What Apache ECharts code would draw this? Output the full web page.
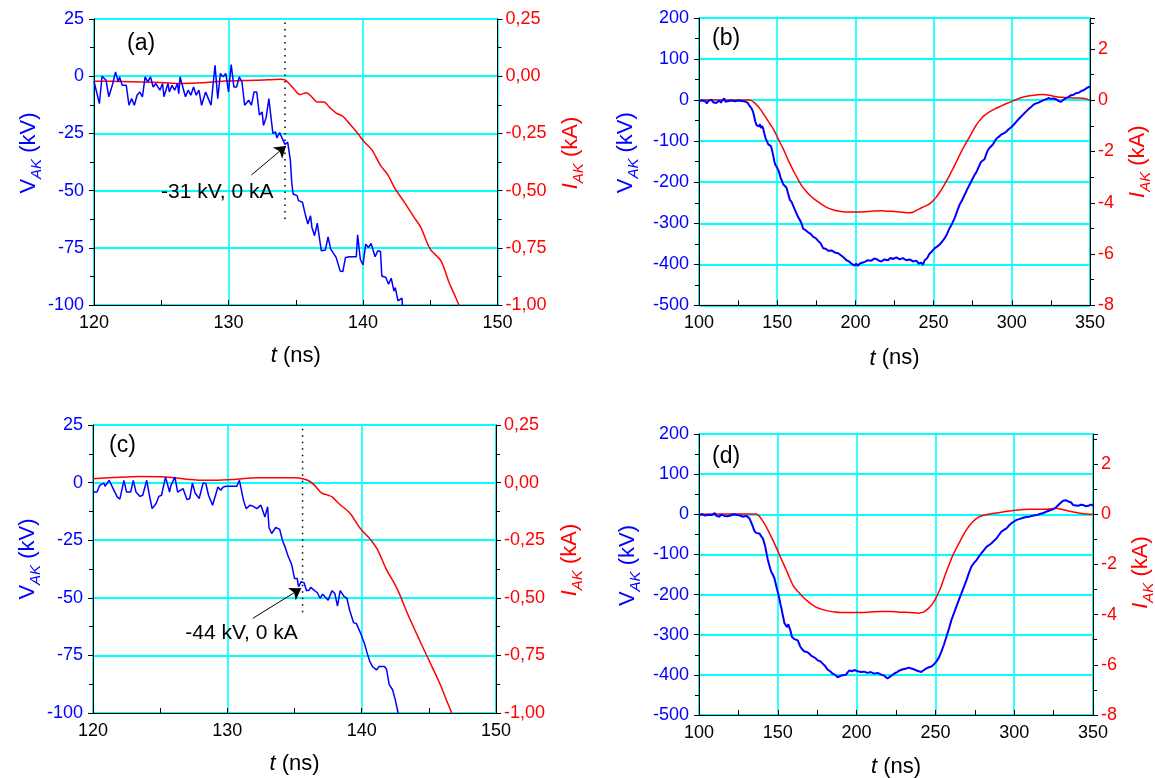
<!DOCTYPE html>
<html><head><meta charset="utf-8">
<script src="https://cdn.jsdelivr.net/npm/echarts@6/dist/echarts.min.js"></script>
<style>html,body{margin:0;padding:0;background:#fff}#c{width:1155px;height:778px}</style>
</head><body><div id="c"></div><script>
// ---------- DATA ----------
const panelLabels = ['(a)', '(b)', '(c)', '(d)'];

// Panel (a): t (ns), V_AK (kV) / I_AK (kA)
const aVoltage = [[120.0,-2.2],[120.4,-12],[120.6,0],[120.9,-1.8],[121.1,-9],[121.4,-3.2],[121.6,1.9],[121.8,-2.5],[121.9,-0.3],[122.1,-4],[122.4,-4],[122.6,-12.7],[122.8,-9.8],[123.0,-12.7],[123.2,-8.3],[123.4,-6.9],[123.6,-9],[123.8,-0.3],[124.0,-2.5],[124.2,-0.3],[124.4,-4.7],[124.6,-3.2],[124.9,-6.1],[125.1,-3.2],[125.2,-9],[125.5,-3.2],[125.6,-6.9],[125.8,-4],[126.0,-6.1],[126.2,-3.2],[126.3,-7.6],[126.4,-0.3],[126.7,-6.9],[126.8,-9],[127.0,-6.1],[127.2,-8.3],[127.4,-4.7],[127.6,-8.3],[127.8,-6.1],[128.0,-12.7],[128.3,-6.9],[128.5,-9.8],[128.7,-12.7],[129.0,4.8],[129.2,-9.8],[129.4,1.2],[129.6,-0.3],[129.8,1.2],[130.0,-6.9],[130.2,5.1],[130.4,-4.7],[130.6,-4.7],[130.8,-0.3],[131.0,-2.5],[131.2,-12.7],[131.5,-10.5],[131.7,-12.7],[131.9,-6.9],[132.1,-6.9],[132.3,-17],[132.5,-15.6],[132.6,-21.5],[132.8,-18],[133.0,-9.8],[133.2,-20],[133.3,-25],[133.5,-24.4],[133.6,-27],[133.8,-24.6],[134.0,-27.3],[134.2,-29.8],[134.4,-28.8],[134.6,-36.8],[134.7,-46.3],[134.8,-51.5],[135.1,-52.2],[135.2,-54.4],[135.5,-55.1],[135.7,-60.2],[135.9,-64.6],[136.1,-61],[136.2,-66],[136.4,-69.7],[136.6,-64.2],[136.9,-76.3],[137.2,-76],[137.4,-70.2],[137.6,-75.6],[138.0,-79.2],[138.3,-85.1],[138.5,-85.4],[138.7,-79.2],[139.0,-78.9],[139.5,-78.9],[139.6,-69.3],[139.8,-80],[140.0,-82.5],[140.2,-73.4],[140.4,-74.9],[140.6,-73.1],[140.9,-78.9],[141.1,-76.3],[141.3,-76.6],[141.4,-87.3],[141.7,-88],[141.9,-90.9],[142.1,-88.3],[142.3,-93.9],[142.4,-92.4],[142.6,-98.2],[142.7,-98],[142.9,-97],[142.95,-102]];
const aCurrent = [[120,-0.022],[122,-0.023],[123.5,-0.025],[125,-0.028],[126.5,-0.032],[128,-0.029],[129.7,-0.021],[131,-0.019],[132,-0.018],[133.2,-0.015],[133.9,-0.013],[134.2,-0.016],[134.5,-0.032],[134.9,-0.058],[135.3,-0.08],[135.8,-0.072],[136.2,-0.091],[136.6,-0.113],[137.1,-0.113],[137.5,-0.135],[138.0,-0.161],[138.5,-0.175],[139.0,-0.208],[139.6,-0.249],[140.1,-0.288],[140.7,-0.325],[141.3,-0.39],[141.8,-0.427],[142.4,-0.493],[143.0,-0.544],[143.8,-0.617],[144.3,-0.661],[145.0,-0.756],[145.8,-0.807],[146.4,-0.902],[146.9,-0.968],[147.2,-1.01]];
const aDotted = [[134.2,23.5],[134.2,-62.5]];
const aArrow = [[131.7,-43.2],[134.27,-30.5]];
const aNote = [129.16,-50.6];
const aNoteText = '-31 kV, 0 kA';

// Panel (b)
const bVoltage = [[100,-2],[101,-6],[102,-1],[103,-5],[104,-3],[105,-8],[106,-2],[107,-4],[108,1],[109,-5],[110,-2],[111,-7],[112,-3],[113,-1],[114,-6],[115,-2],[116,4],[117,-4],[118,-6],[119,-2],[120,-5],[121,-1],[122,-4],[123,-3],[124,-6],[125,-1],[126,-3],[127,-2],[128,1],[129,-3],[130,0],[131,-6],[132,-12],[133.6,-20],[134.5,-28],[135.3,-40],[136,-52],[136.8,-61],[137.5,-58],[138.2,-64],[138.9,-59],[139.6,-68],[140.3,-63],[141.1,-70],[141.8,-82],[142.6,-93],[143.4,-100],[144.3,-108],[145.1,-105],[146,-112],[146.7,-122],[147.4,-134],[148.2,-150],[148.9,-158],[149.7,-163],[150.6,-170],[151.4,-178],[152.3,-191],[153,-196],[153.8,-205],[154.8,-207],[155.9,-213],[157,-228],[158.1,-243],[159.2,-248],[160.2,-257],[161.2,-266],[162.3,-276],[163.4,-285],[164.5,-292],[165.5,-300],[166.6,-313],[168.2,-317],[169.8,-322],[171.4,-326],[173,-333],[174.6,-336],[176.2,-343],[177.8,-349],[179.4,-361],[181,-362],[182.6,-367],[184.7,-366],[186.8,-371],[189,-373],[191.1,-379],[192.7,-384],[194.3,-390],[195.9,-393],[197.4,-398],[198.5,-396],[199.6,-403],[200.5,-398],[201.5,-404],[202.8,-398],[204.3,-396],[206,-394],[208,-390],[210.2,-391],[212,-386],[213.4,-387],[215,-391],[216.6,-393],[218.5,-388],[220.9,-390],[222.5,-384],[224,-387],[226.2,-383],[228.3,-388],[230.4,-385],[232.5,-390],[234.7,-388],[236.8,-393],[238.9,-391],[240.5,-398],[242.1,-396],[243.2,-401],[244.3,-390],[245.8,-385],[247.4,-374],[249,-368],[250.6,-361],[252.2,-357],[253.8,-352],[255.4,-345],[257,-337],[258.6,-326],[260.2,-312],[261.8,-301],[263.4,-288],[265,-271],[266.6,-255],[268.2,-244],[269.8,-231],[271.4,-218],[273,-206],[274.6,-194],[276.2,-182],[277.3,-176],[278.3,-172],[279.4,-158],[280.4,-150],[281.5,-149],[282.6,-144],[283.6,-132],[284.7,-122],[286.3,-114],[287.9,-108],[289.1,-100],[290.4,-93],[291.8,-89],[293.2,-84],[294.8,-81],[296.4,-77],[298,-71],[299.6,-66],[301.2,-60],[302.8,-53],[304.4,-46],[306,-40],[307.5,-34],[309.1,-28],[310.7,-22],[312.3,-17],[313.9,-11],[315.5,-8],[317.1,-6],[318.7,-3],[320.3,0],[321.9,2],[323.5,5],[325.1,3],[326.7,4],[328.3,2],[329.9,-2],[331.5,-4],[333.1,1],[334.7,5],[336.3,8],[337.9,12],[339.5,13],[341.1,17],[342.7,18],[344.3,22],[345.9,24],[347.4,28],[348.5,26],[349.5,33],[350,30]];
const bCurrent = [[100,0],[110,0],[120,0],[128,0],[132.6,0],[134.7,-0.07],[136.8,-0.18],[138.9,-0.33],[141,-0.52],[143.2,-0.72],[145.3,-0.92],[147.4,-1.11],[149,-1.3],[150.6,-1.5],[152.2,-1.7],[153.8,-1.89],[155.4,-2.11],[157.0,-2.34],[159.2,-2.61],[161.3,-2.86],[163.4,-3.1],[165.5,-3.32],[168.2,-3.53],[170.9,-3.71],[173.5,-3.85],[176.2,-3.97],[179.4,-4.1],[182.6,-4.21],[186,-4.28],[189,-4.32],[192,-4.35],[195.3,-4.36],[201.7,-4.36],[206,-4.35],[210.2,-4.33],[216.6,-4.31],[221,-4.33],[225.1,-4.34],[228.3,-4.36],[234.7,-4.39],[236.8,-4.37],[238.9,-4.30],[241,-4.24],[243.2,-4.17],[245.3,-4.11],[247.4,-4.04],[249.5,-3.93],[251.7,-3.78],[253.8,-3.6],[256.0,-3.39],[258.1,-3.17],[260.2,-2.93],[262.4,-2.67],[264.5,-2.41],[266.6,-2.15],[268.7,-1.89],[270.9,-1.65],[273.0,-1.43],[275.1,-1.2],[277.2,-0.98],[279.4,-0.8],[281.5,-0.65],[283.6,-0.55],[285.7,-0.46],[289,-0.35],[292.1,-0.26],[295.3,-0.17],[298.5,-0.09],[301.7,-0.01],[304.9,0.07],[308.1,0.13],[311.3,0.17],[315.5,0.20],[319.8,0.22],[324,0.19],[328.3,0.13],[332.5,0.11],[336.8,0.09],[341,0.08],[345.3,0.07],[350,0]];

// Panel (c)
const cVoltage = [[120.0,-4.1],[120.3,-4.1],[120.5,-1.2],[120.8,-0.2],[120.9,-1.6],[121.2,1.0],[121.5,-2.6],[121.8,-6.2],[122.0,-7.2],[122.3,1.0],[122.5,-4.1],[122.6,-3.3],[122.8,-4.1],[123.0,1.0],[123.2,-4.1],[123.5,-6.0],[123.7,-5.5],[124.0,1.0],[124.2,-5.5],[124.4,-11.3],[124.7,-9.1],[124.9,-6.0],[125.1,-5.5],[125.4,2.4],[125.7,-4.1],[125.8,-1.2],[126.1,2.4],[126.3,-4.1],[126.7,-2.6],[127.0,-7.4],[127.2,-6.9],[127.4,-0.2],[127.6,-4.5],[127.9,-6.9],[128.2,-0.2],[128.4,-0.4],[128.6,-5.5],[128.9,-9.8],[129.0,-9.1],[129.3,-1.9],[129.5,-3.3],[129.7,-1.9],[129.9,-1.6],[130.7,-1.6],[130.9,1.0],[131.2,-7.6],[131.4,-11.3],[131.7,-9.8],[131.9,-10.2],[132.2,-11.3],[132.5,-9.8],[132.8,-14.9],[133.0,-10.5],[133.1,-19.5],[133.3,-22.1],[133.6,-19.5],[133.9,-20.3],[134.1,-25],[134.3,-28],[134.5,-31.5],[134.8,-35.8],[135.0,-41.6],[135.2,-41.6],[135.3,-45.2],[135.5,-43.0],[135.7,-43.4],[135.9,-46.9],[136.1,-46.6],[136.2,-45.5],[136.5,-46.9],[136.7,-47.8],[136.9,-50.2],[137.1,-48.4],[137.3,-49.8],[137.5,-51],[137.8,-46.9],[138.0,-48.1],[138.2,-53.6],[138.4,-46.9],[138.7,-49.5],[138.9,-50.2],[139.1,-55.3],[139.4,-60.8],[139.6,-61.1],[139.9,-65.1],[140.2,-69.7],[140.4,-73.8],[140.6,-77.6],[140.8,-79.8],[141.1,-81.3],[141.3,-79.8],[141.7,-79.8],[141.85,-81],[142.05,-87.7],[142.3,-89.9],[142.5,-94.2],[142.75,-101]];
const cCurrent = [[120,0.017],[121.5,0.022],[123.5,0.027],[125,0.025],[126,0.021],[127,0.015],[128,0.010],[129,0.010],[130.4,0.013],[132.2,0.021],[133.9,0.0215],[135.0,0.021],[135.6,0.017],[136.1,0.007],[136.5,-0.012],[137.0,-0.045],[137.5,-0.055],[137.8,-0.062],[138.3,-0.091],[139.1,-0.131],[139.9,-0.199],[140.7,-0.25],[141.2,-0.293],[141.8,-0.372],[142.5,-0.445],[142.9,-0.495],[143.4,-0.567],[144.3,-0.683],[145.0,-0.77],[145.8,-0.87],[146.4,-0.957],[146.7,-1.0],[146.8,-1.02]];
const cDotted = [[135.6,23.4],[135.6,-58.2]];
const cArrow = [[131.9,-58.9],[135.5,-45.9]];
const cNote = [131.06,-65.2];
const cNoteText = '-44 kV, 0 kA';

// Panel (d)
const dVoltage = [[100,-2],[101,-5],[102,0],[103,-4],[104,-3],[105,-6],[106,-1],[107,-3],[108,-2],[109,-5],[110,3],[111,-4],[112,-2],[113,-6],[114,-1],[115,-3],[116,-4],[117,-1],[118,-5],[119,-2],[120,-3],[121,-6],[122,0],[123,-4],[124,-2],[125,-5],[126,-3],[127,-1],[128,-6],[129,-2],[130,-4],[131,-6],[132,-10],[132.7,-14],[133.5,-24],[134.2,-31],[135,-40],[135.7,-45],[137,-47],[138.4,-48],[139.5,-55],[140.5,-60],[141.3,-70],[142,-80],[142.9,-98],[143.7,-114],[144.7,-128],[145.8,-143],[146.8,-150],[147.9,-160],[148.8,-175],[149.6,-188],[150.4,-200],[151.1,-213],[151.8,-226],[152.5,-238],[153.4,-256],[154.2,-271],[155,-275],[155.9,-281],[156.7,-274],[157.4,-277],[158.2,-292],[158.9,-305],[159.7,-309],[160.5,-311],[161.6,-310],[162.7,-314],[163.5,-322],[164.3,-330],[165.6,-337],[166.9,-342],[168.5,-343],[170.0,-347],[171.1,-352],[172.2,-355],[173.8,-358],[175.3,-364],[176.9,-366],[178.5,-372],[180,-378],[181.6,-387],[183.2,-391],[184.8,-397],[186.4,-400],[188,-406],[189.5,-403],[191.1,-401],[192.2,-397],[193.2,-400],[194.3,-394],[195.4,-389],[197,-391],[198.5,-388],[200.6,-391],[202.7,-393],[204.8,-392],[206.9,-395],[209,-393],[211.2,-397],[213.3,-395],[215.4,-399],[217.5,-402],[219.6,-409],[221,-405],[222.8,-400],[224.2,-396],[225.7,-393],[227.3,-389],[229.4,-386],[231.6,-384],[233.1,-382],[234.7,-384],[236.3,-386],[237.9,-389],[239.5,-391],[241.1,-393],[242.7,-388],[244.3,-384],[245.9,-381],[247.5,-379],[249,-374],[250.6,-367],[252.2,-357],[253.8,-342],[255.4,-325],[257.0,-305],[258.6,-285],[260.2,-263],[261.8,-246],[263.3,-230],[264.9,-213],[266.5,-197],[268.1,-181],[269.7,-164],[271.3,-146],[272.9,-130],[274.5,-121],[276.1,-114],[277.7,-105],[279.2,-97],[280.8,-89],[282.4,-81],[284,-77],[285.6,-72],[287.2,-66],[288.8,-60],[290.4,-51],[291.9,-43],[293.5,-39],[295.1,-35],[296.7,-28],[298.3,-22],[299.9,-18],[301.5,-14],[303.1,-12],[304.7,-10],[306.3,-8],[307.8,-7],[309.4,-6],[311.0,-4],[312.6,-3],[314.2,-2],[315.8,0],[317.4,2],[319,4],[320.6,7],[322.2,9],[323.7,11],[325.3,14],[326.9,19],[328,22],[329.0,27],[330,31],[331.1,34],[332.7,35],[334.3,32],[335.9,30],[337.5,23],[339.1,22],[340.7,21],[342.3,24],[343.9,23],[345.5,20],[347.0,21],[348.6,24],[350,22]];
const dCurrent = [[100,0],[110,0.01],[120,0.01],[130,0.01],[136.3,0.01],[137.3,-0.02],[138.4,-0.09],[140.5,-0.27],[142.6,-0.49],[144.7,-0.75],[146.8,-1.02],[149,-1.32],[151.1,-1.62],[153.2,-1.92],[155.3,-2.21],[157.4,-2.52],[159.5,-2.81],[161.6,-3.0],[163.7,-3.14],[166.3,-3.32],[169.0,-3.47],[171.7,-3.6],[174.3,-3.70],[178,-3.79],[181.6,-3.85],[186,-3.89],[190.1,-3.91],[198.5,-3.91],[203,-3.91],[207.0,-3.90],[211,-3.88],[215.4,-3.87],[221,-3.87],[227.3,-3.90],[233.7,-3.91],[239,-3.94],[241.2,-3.92],[243.2,-3.87],[245.8,-3.74],[248.5,-3.54],[250.6,-3.3],[252.8,-3.01],[254.9,-2.65],[257.0,-2.28],[259.1,-1.94],[261.2,-1.62],[263.4,-1.34],[265.5,-1.09],[267.6,-0.84],[269.7,-0.62],[271.8,-0.44],[273.9,-0.29],[276,-0.17],[278.2,-0.09],[281.3,-0.03],[284.5,0.01],[290.9,0.07],[299.4,0.15],[310.0,0.20],[320.6,0.20],[326.9,0.24],[330,0.2],[333.3,0.15],[337.5,0.09],[341.7,0.04],[346,0.01],[350,0]];

// ---------- STYLE / LAYOUT ----------
const FONT = '"Liberation Sans", Arial, sans-serif';
const BLUE = '#0000ff', RED = '#ff0000', CYAN = '#00ffff';

const grids = [
  {left: 94, right: 657.5, top: 19, bottom: 473},
  {left: 699, right: 65, top: 18, bottom: 472.6},
  {left: 93, right: 659, top: 425, bottom: 65},
  {left: 699, right: 62, top: 434, bottom: 63}
].map(g => Object.assign(g, {show: true, borderColor: '#000', borderWidth: 1, backgroundColor: 'transparent', containLabel: false, outerBoundsMode: 'none'}));

function xAx(i, min, max, interval, gap) {
  return {
    type: 'value', gridIndex: i, min, max, interval,
    name: '{it|t} (ns)', nameLocation: 'middle', nameGap: gap,
    nameTextStyle: {fontFamily: FONT, fontSize: 22, color: '#000',
      rich: {it: {fontFamily: FONT, fontStyle: 'italic', fontSize: 22, color: '#000'}}},
    axisLine: {onZero: false, lineStyle: {color: '#000', width: 1}},
    axisTick: {show: true, inside: true, length: 5, lineStyle: {color: '#000'}},
    minorTick: {show: true, splitNumber: 2, length: 5, lineStyle: {color: '#000'}},
    axisLabel: {fontFamily: FONT, fontSize: 18, color: '#000', margin: 9},
    splitLine: {show: true, lineStyle: {color: CYAN, width: 1.6}}
  };
}
const subRich = (color) => ({
  it: {fontFamily: FONT, fontStyle: 'italic', fontSize: 22, color},
  sub: {fontFamily: FONT, fontStyle: 'italic', fontSize: 15, color, verticalAlign: 'top', padding: [16, 0, 0, 0]}
});
function yLeft(i, min, max, interval, gap, pad) {
  return {
    type: 'value', gridIndex: i, position: 'left', min, max, interval,
    name: 'V{sub|AK} (kV)', nameLocation: 'middle', nameGap: gap, nameRotate: 90,
    nameTextStyle: {fontFamily: FONT, fontSize: 22, color: BLUE, padding: [0, 0, 0, pad], rich: subRich(BLUE)},
    axisLine: {show: true, onZero: false, lineStyle: {color: '#000'}},
    axisTick: {show: true, inside: false, length: 5, lineStyle: {color: '#000'}},
    minorTick: {show: true, splitNumber: 2, length: 4, lineStyle: {color: '#000'}},
    axisLabel: {fontFamily: FONT, fontSize: 18, color: BLUE, margin: 10},
    splitLine: {show: true, lineStyle: {color: CYAN, width: 2}}
  };
}
function yRight(i, min, max, interval, gap, pad, fmt) {
  return {
    type: 'value', gridIndex: i, position: 'right', min, max, interval,
    name: '{it|I}{sub|AK} (kA)', nameLocation: 'middle', nameGap: gap, nameRotate: 90,
    nameTextStyle: {fontFamily: FONT, fontSize: 22, color: RED, padding: [0, 0, 0, pad], rich: subRich(RED)},
    axisLine: {show: true, onZero: false, lineStyle: {color: '#000'}},
    axisTick: {show: true, inside: false, length: 5, lineStyle: {color: '#000'}},
    minorTick: {show: true, splitNumber: 2, length: 4, lineStyle: {color: '#000'}},
    axisLabel: {fontFamily: FONT, fontSize: 18, color: RED, margin: 8, formatter: fmt},
    splitLine: {show: false}
  };
}
const fmtComma = v => (Math.abs(v) < 1e-9 ? '0,00' : v.toFixed(2).replace('.', ','));
const fmtInt = v => (Math.abs(v - Math.round(v)) < 1e-6 ? String(Math.round(v)) : '');

function line(data, xi, yi, color, width, smooth) {
  return {type: 'line', data, xAxisIndex: xi, yAxisIndex: yi, showSymbol: false, symbol: 'none',
    smooth: smooth || false, clip: true, lineStyle: {color, width}, silent: true, z: 3};
}
function annot(dotted, arrow, note, text, xi, yi) {
  return [
    {type: 'line', data: dotted, xAxisIndex: xi, yAxisIndex: yi, symbol: 'none', silent: true, z: 2,
      lineStyle: {color: '#000', width: 1.5, type: [1.5, 5]},
      markLine: {silent: true, symbol: ['none', 'arrow'], symbolSize: 11, animation: false,
        lineStyle: {color: '#000', type: 'solid', width: 1}, label: {show: false},
        data: [[{coord: arrow[0]}, {coord: arrow[1]}]]}},
    {type: 'scatter', data: [note], xAxisIndex: xi, yAxisIndex: yi, symbolSize: 1, silent: true,
      itemStyle: {color: 'rgba(0,0,0,0)'},
      label: {show: true, position: 'inside', formatter: text, fontFamily: FONT, fontSize: 21,
        color: '#000', textBorderWidth: 0, opacity: 1}}
  ];
}

const labelPos = [[127, 32], [712, 27], [109, 434], [712, 445]];

const option = {
  animation: false,
  backgroundColor: '#fff',
  grid: grids,
  xAxis: [xAx(0, 120, 150, 10, 40), xAx(1, 100, 350, 50, 42), xAx(2, 120, 150, 10, 40), xAx(3, 100, 350, 50, 41)],
  yAxis: [
    yLeft(0, -100, 25, 25, 48, 18), yRight(0, -1, 0.25, 0.25, 58, 18, fmtComma),
    yLeft(1, -500, 200, 100, 58, 18), yRight(1, -8, 3.2, 2, 32, 0, fmtInt),
    yLeft(2, -100, 25, 25, 48, 20), yRight(2, -1, 0.25, 0.25, 58, 18, fmtComma),
    yLeft(3, -500, 200, 100, 56, 18), yRight(3, -8, 3.2, 2, 32, 4, fmtInt)
  ],
  series: [
    line(aCurrent, 0, 1, RED, 1.5, 0.3), line(aVoltage, 0, 0, BLUE, 1.5),
    ...annot(aDotted, aArrow, aNote, aNoteText, 0, 0),
    line(bCurrent, 1, 3, RED, 1.5, 0.3), line(bVoltage, 1, 2, BLUE, 2),
    line(cCurrent, 2, 5, RED, 1.5, 0.3), line(cVoltage, 2, 4, BLUE, 1.5),
    ...annot(cDotted, cArrow, cNote, cNoteText, 2, 4),
    line(dCurrent, 3, 7, RED, 1.5, 0.3), line(dVoltage, 3, 6, BLUE, 2)
  ],
  graphic: panelLabels.map((t, k) => ({
    type: 'text', left: labelPos[k][0], top: labelPos[k][1], z: 10,
    style: {text: t, fontFamily: FONT, fontSize: 23, fill: '#000'}
  }))
};
const chart = echarts.init(document.getElementById('c'), null, {renderer: 'canvas'});
chart.setOption(option);
</script></body></html>
